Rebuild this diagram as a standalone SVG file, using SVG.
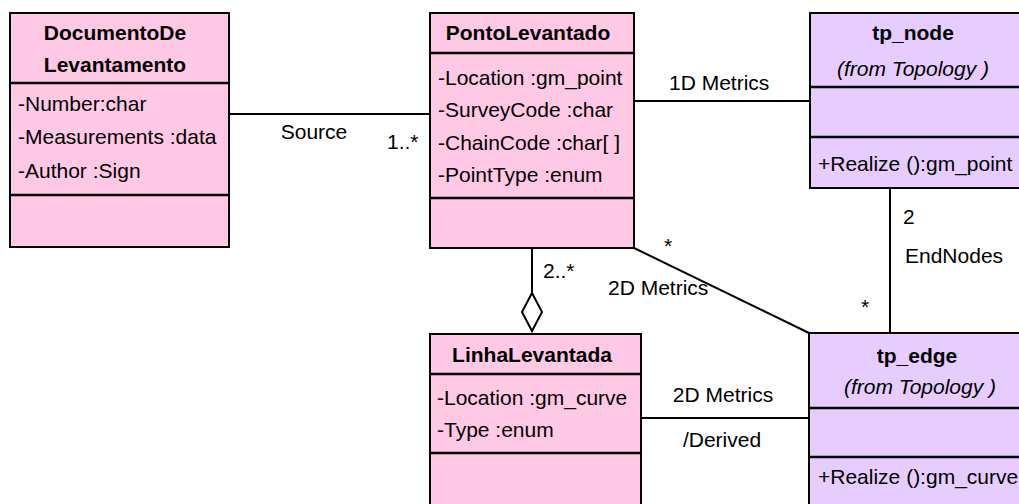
<svg xmlns="http://www.w3.org/2000/svg" width="1019" height="504" viewBox="0 0 1019 504">
<style>
text{font-family:"Liberation Sans",Arial,sans-serif;font-size:21px;fill:#000}
.t{font-weight:bold;text-anchor:middle}
.i{font-style:italic;text-anchor:middle}
.c{text-anchor:middle}
.pk{fill:#FFC8E4;stroke:#000;stroke-width:2}
.pu{fill:#E6CCFF;stroke:#000;stroke-width:2}
.d{stroke:#000;stroke-width:2.5;fill:none}
.cn{stroke:#000;stroke-width:2;fill:none}
</style>
<rect width="1019" height="504" fill="#fff"/>
<g id="connectors">
<line class="cn" x1="229" y1="114" x2="430" y2="114"/>
<line class="cn" x1="634" y1="101" x2="810" y2="101" stroke-width="3"/>
<line class="cn" x1="634" y1="248" x2="809" y2="333"/>
<line class="cn" x1="890" y1="188" x2="890" y2="333"/>
<line class="cn" x1="641" y1="418" x2="809" y2="418"/>
<line class="cn" x1="532" y1="248" x2="532" y2="293"/>
<polygon points="532,293 542,312 532,331 522,312" fill="#fff" stroke="#000" stroke-width="2"/>
<text class="c" x="314" y="139">Source</text>
<text x="387" y="149">1..*</text>
<text x="669" y="90">1D Metrics</text>
<text x="543" y="278">2..*</text>
<text x="664" y="253">*</text>
<text x="608" y="295">2D Metrics</text>
<text x="903" y="224">2</text>
<text x="905" y="263">EndNodes</text>
<text x="861" y="314">*</text>
<text class="c" x="723" y="402">2D Metrics</text>
<text class="c" x="722" y="447">/Derived</text>
</g>
<g id="DocumentoDeLevantamento">
<rect class="pk" x="10" y="13" width="219" height="234"/>
<line class="d" x1="10" y1="83" x2="229" y2="83"/>
<line class="d" x1="10" y1="195" x2="229" y2="195"/>
<text class="t" x="115" y="40">DocumentoDe</text>
<text class="t" x="115" y="72">Levantamento</text>
<text x="18" y="111">-Number:char</text>
<text x="18" y="144">-Measurements :data</text>
<text x="18" y="178">-Author :Sign</text>
</g>
<g id="PontoLevantado">
<rect class="pk" x="430" y="13" width="204" height="235"/>
<line class="d" x1="430" y1="53" x2="634" y2="53"/>
<line class="d" x1="430" y1="198" x2="634" y2="198"/>
<text class="t" x="528" y="40">PontoLevantado</text>
<text x="438" y="85">-Location :gm_point</text>
<text x="438" y="117">-SurveyCode :char</text>
<text x="438" y="150">-ChainCode :char[ ]</text>
<text x="438" y="182">-PointType :enum</text>
</g>
<g id="tp_node">
<rect class="pu" x="810" y="13" width="210" height="175"/>
<line class="d" x1="810" y1="87" x2="1019" y2="87"/>
<line class="d" x1="810" y1="137" x2="1019" y2="137"/>
<text class="t" x="913" y="40">tp_node</text>
<text class="i" x="913" y="76">(from  Topology )</text>
<text x="818" y="171">+Realize ():gm_point</text>
</g>
<g id="LinhaLevantada">
<rect class="pk" x="430" y="334" width="211" height="180"/>
<line class="d" x1="430" y1="374" x2="641" y2="374"/>
<line class="d" x1="430" y1="453" x2="641" y2="453"/>
<text class="t" x="532" y="362">LinhaLevantada</text>
<text x="437" y="405">-Location :gm_curve</text>
<text x="437" y="437">-Type :enum</text>
</g>
<g id="tp_edge">
<rect class="pu" x="809" y="333" width="211" height="181"/>
<line class="d" x1="809" y1="408" x2="1019" y2="408"/>
<line class="d" x1="809" y1="457" x2="1019" y2="457"/>
<text class="t" x="917" y="363">tp_edge</text>
<text class="i" x="920" y="394">(from  Topology )</text>
<text x="818" y="484">+Realize ():gm_curve</text>
</g>
</svg>
